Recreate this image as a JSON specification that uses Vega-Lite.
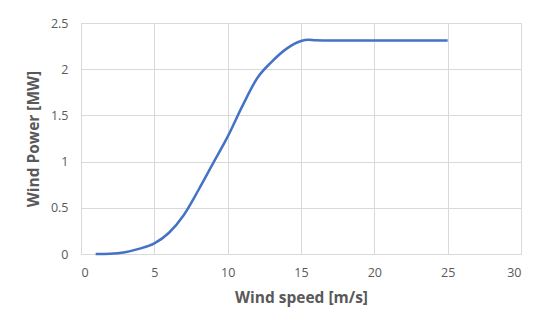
{
  "$schema": "https://vega.github.io/schema/vega-lite/v6.json",
  "autosize": "none",
  "width": 440,
  "height": 231,
  "padding": {"left": 81, "top": 23, "right": 29, "bottom": 78},
  "background": "white",
  "config": {
    "font": "Open Sans",
    "view": {"stroke": "#d9d9d9", "strokeWidth": 1},
    "axis": {
      "gridColor": "#d9d9d9",
      "gridWidth": 1,
      "ticks": false,
      "labelColor": "#595959",
      "labelFontSize": 12.5,
      "labelFont": "Open Sans",
      "titleColor": "#595959",
      "titleFont": "Open Sans",
      "titleFontSize": 15.5,
      "titleFontWeight": "bold",
      "domainColor": "#d9d9d9"
    }
  },
  "data": {
    "values": [
      {"speed": 1, "power": 0},
      {"speed": 2, "power": 0.003},
      {"speed": 3, "power": 0.02},
      {"speed": 4, "power": 0.058},
      {"speed": 5, "power": 0.115},
      {"speed": 6, "power": 0.23},
      {"speed": 7, "power": 0.42},
      {"speed": 8, "power": 0.69},
      {"speed": 9, "power": 0.98},
      {"speed": 10, "power": 1.27},
      {"speed": 11, "power": 1.6},
      {"speed": 12, "power": 1.9},
      {"speed": 13, "power": 2.08},
      {"speed": 14, "power": 2.22},
      {"speed": 15, "power": 2.305},
      {"speed": 15.5, "power": 2.32},
      {"speed": 16, "power": 2.312},
      {"speed": 17, "power": 2.31},
      {"speed": 20, "power": 2.31},
      {"speed": 25, "power": 2.31}
    ]
  },
  "mark": {"type": "line", "interpolate": "monotone", "color": "#4472c4", "strokeWidth": 2.5},
  "encoding": {
    "x": {
      "field": "speed",
      "type": "quantitative",
      "scale": {"domain": [0, 30], "nice": false},
      "axis": {"values": [0, 5, 10, 15, 20, 25, 30], "title": "Wind speed [m/s]", "labelPadding": 12, "titlePadding": 12, "domain": true}
    },
    "y": {
      "field": "power",
      "type": "quantitative",
      "scale": {"domain": [0, 2.5], "nice": false},
      "axis": {"values": [0, 0.5, 1, 1.5, 2, 2.5], "format": "~g", "title": "Wind Power [MW]", "labelPadding": 13, "titlePadding": 9, "domain": false}
    }
  }
}
